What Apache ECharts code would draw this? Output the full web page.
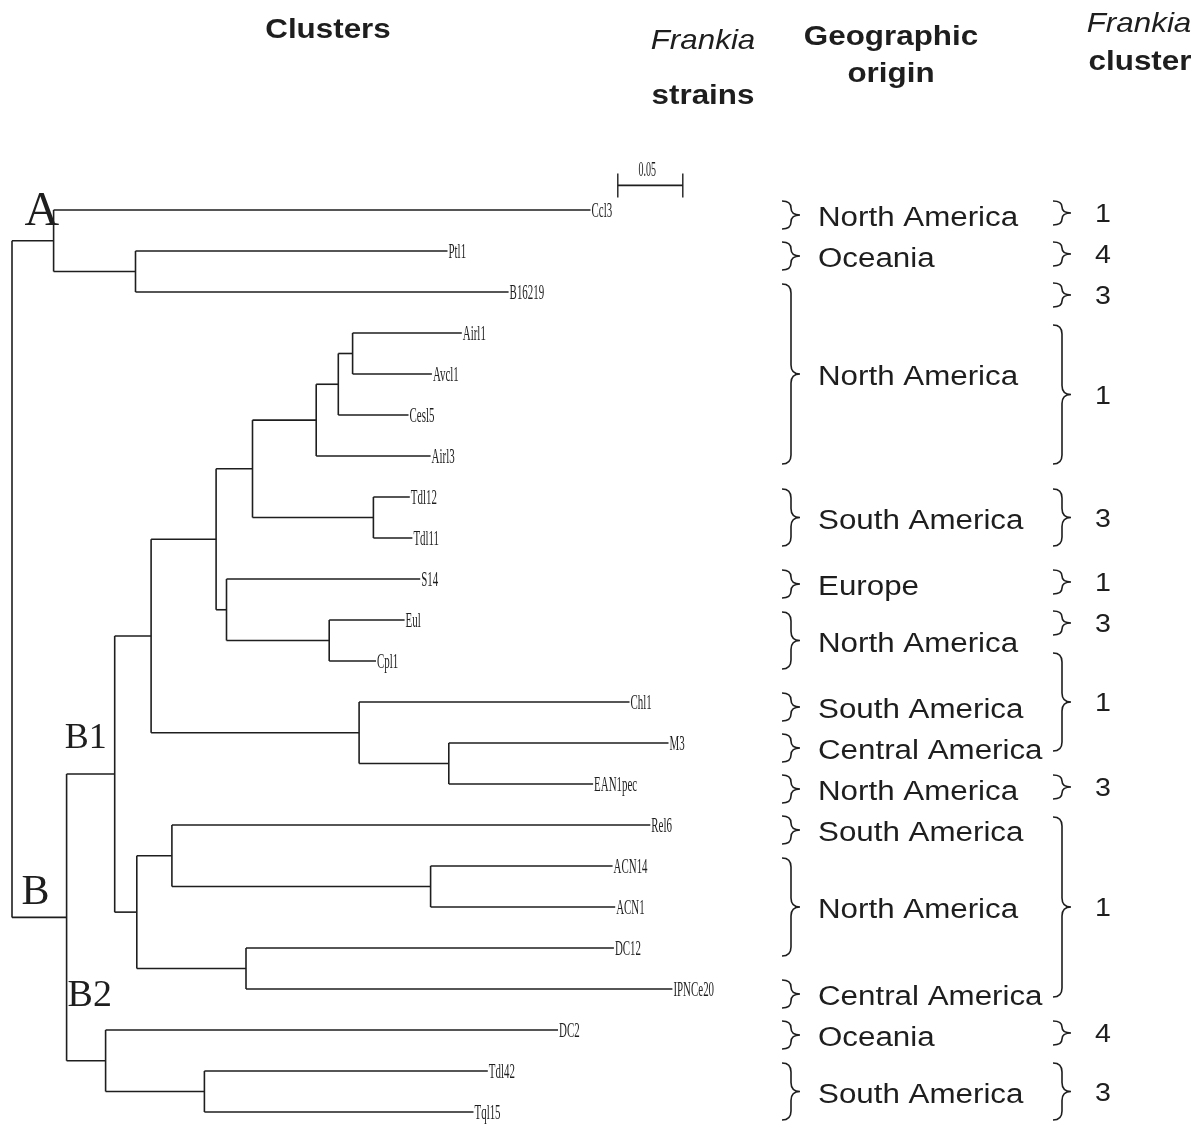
<!DOCTYPE html>
<html><head><meta charset="utf-8">
<script src="https://cdn.jsdelivr.net/npm/echarts@6/dist/echarts.min.js"></script>
<style>html,body{margin:0;padding:0;background:#fff}#chart{width:1200px;height:1125px}</style>
</head><body><div id="chart"></div>
<script>
// ---- Data: leaves (strains) in display order and their distance from root
const leafNames = ['Ccl3','Ptl1','B16219','Airl1','Avcl1','Cesl5','Airl3','Tdl12','Tdl11','S14','Eul','Cpl1','Chl1','M3','EAN1pec','Rel6','ACN14','ACN1','DC12','IPNCe20','DC2','Tdl42','Tql15'];
const leafDepth = [0.445,0.335,0.382,0.346,0.323,0.305,0.322,0.306,0.308,0.314,0.302,0.280,0.475,0.505,0.447,0.491,0.462,0.464,0.463,0.508,0.420,0.366,0.355];
// ---- Internal nodes: distance from root and children
const nodeNames = ['root','A','PB','B','B1','B1a','n216','n252','n317','n339','n353','nTd','n227','nEC','n359','n449','B1b','n172','nACN','n246','B2','nTT'];
const nodeDepth = [0,0.032,0.095,0.042,0.079,0.107,0.157,0.185,0.234,0.251,0.262,0.278,0.165,0.244,0.267,0.336,0.096,0.123,0.322,0.180,0.072,0.148];
const nodeChildren = [
  ['A','B'], ['Ccl3','PB'], ['Ptl1','B16219'], ['B1','B2'], ['B1a','B1b'],
  ['n216','n359'], ['n252','n227'], ['n317','nTd'], ['n339','Airl3'], ['n353','Cesl5'],
  ['Airl1','Avcl1'], ['Tdl12','Tdl11'], ['S14','nEC'], ['Eul','Cpl1'], ['Chl1','n449'],
  ['M3','EAN1pec'], ['n172','n246'], ['Rel6','nACN'], ['ACN14','ACN1'], ['DC12','IPNCe20'],
  ['DC2','nTT'], ['Tdl42','Tql15']
];
// ---- Geographic origin groups (leaf index ranges)
const geoNames = ['North America','Oceania','North America','South America','Europe','North America','South America','Central America','North America','South America','North America','Central America','Oceania','South America'];
const geoFirst = [0,1,2,7,9,10,12,13,14,15,16,19,20,21];
const geoLast  = [0,1,6,8,9,11,12,13,14,15,18,19,20,22];
// ---- Frankia cluster groups (leaf index ranges)
const clusterNames = ['1','4','3','1','3','1','3','1','3','1','4','3'];
const clusterFirst = [0,1,2,3,7,9,10,11,14,15,20,21];
const clusterLast  = [0,1,2,6,8,9,10,13,14,19,20,22];
// ---- Clade labels
const cladeNodes = ['A','B','B1','B2'];
const cladeLabels = ['A','B','B1','B2'];
// ---- Scale bar
const scaleBarLength = 0.05;
const scaleBarLabel = '0.05';
// ---- Column headers
const headerTexts = ['Clusters','Frankia','strains','Geographic','origin','Frankia','cluster'];

// ---------- build tree geometry ----------
const leafIndex = {}; leafNames.forEach((n,i)=>leafIndex[n]=i);
const nodeIndex = {}; nodeNames.forEach((n,i)=>nodeIndex[n]=i);
function pos(name){
  if (name in leafIndex) { const i = leafIndex[name]; return [leafDepth[i], i]; }
  const i = nodeIndex[name];
  const ch = nodeChildren[i].map(pos);
  return [nodeDepth[i], (ch[0][1] + ch[ch.length-1][1]) / 2];
}
const segments = [];
nodeNames.forEach((n,i)=>{
  const p = pos(n);
  const ch = nodeChildren[i].map(pos);
  segments.push([p[0], ch[0][1], p[0], ch[ch.length-1][1]]);
  ch.forEach(c=>segments.push([p[0], c[1], c[0], c[1]]));
});

const INK = '#1e1e1e';
const SERIF = '"Liberation Serif", "DejaVu Serif", serif';
const SANS = '"Liberation Sans", Arial, sans-serif';

function bracePath(x0, t, b, w){
  const m = (t+b)/2, xm = x0 + w*0.5;
  const r = Math.min(w*0.5, (b-t)/4);
  return `M${x0},${t} Q${xm},${t} ${xm},${t+r} L${xm},${m-r} Q${xm},${m} ${x0+w},${m} Q${xm},${m} ${xm},${m+r} L${xm},${b-r} Q${xm},${b} ${x0},${b}`;
}

function groupSeries(first, last, names, cfg){
  return {
    type:'custom', coordinateSystem:'cartesian2d', silent:true, animation:false,
    data: first.map((f,i)=>[0, f, last[i]]),
    encode:{x:0, y:[1,2]},
    renderItem:(params, api)=>{
      const i = params.dataIndex;
      const y1 = api.coord([0, api.value(1)])[1];
      const y2 = api.coord([0, api.value(2)])[1];
      let t, b;
      if (api.value(1) === api.value(2)) { t = y1 + cfg.shift - cfg.half; b = y1 + cfg.shift + cfg.half; }
      else { t = y1 - cfg.pad; b = y2 + cfg.pad; }
      const m = (t+b)/2;
      return {type:'group', children:[
        {type:'path', shape:{pathData: bracePath(cfg.x0, t, b, cfg.w)}, style:{fill:'none', stroke:INK, lineWidth:1.6}},
        {type:'text', x: cfg.tx, y: m + cfg.ty, scaleX: cfg.sx,
          style:{text: names[i], fontSize: cfg.fs, fontFamily: SANS, fill: INK, align: cfg.align, verticalAlign:'middle'}}
      ]};
    }
  };
}

const chart = echarts.init(document.getElementById('chart'), null, {renderer:'canvas'});
chart.setOption({
  backgroundColor:'#ffffff',
  animation:false,
  grid:{left:12, top:169, width:1170, height:943, containLabel:false},
  xAxis:{type:'value', min:0, max:0.9, show:false},
  yAxis:{type:'value', min:-1, max:22, inverse:true, show:false},
  graphic:[
    {type:'text', x:328, y:30, scaleX:1.12, style:{text:headerTexts[0], font:'bold 28px '+SANS, fill:INK, align:'center', verticalAlign:'middle'}},
    {type:'text', x:703, y:41, scaleX:1.12, style:{text:headerTexts[1], font:'italic 28px '+SANS, fill:INK, align:'center', verticalAlign:'middle'}},
    {type:'text', x:703, y:96, scaleX:1.12, style:{text:headerTexts[2], font:'bold 28px '+SANS, fill:INK, align:'center', verticalAlign:'middle'}},
    {type:'text', x:891, y:37, scaleX:1.12, style:{text:headerTexts[3], font:'bold 28px '+SANS, fill:INK, align:'center', verticalAlign:'middle'}},
    {type:'text', x:891, y:74, scaleX:1.12, style:{text:headerTexts[4], font:'bold 28px '+SANS, fill:INK, align:'center', verticalAlign:'middle'}},
    {type:'text', x:1139, y:24, scaleX:1.12, style:{text:headerTexts[5], font:'italic 28px '+SANS, fill:INK, align:'center', verticalAlign:'middle'}},
    {type:'text', x:1140, y:62, scaleX:1.12, style:{text:headerTexts[6], font:'bold 28px '+SANS, fill:INK, align:'center', verticalAlign:'middle'}}
  ],
  series:[
    { // tree branches
      type:'custom', coordinateSystem:'cartesian2d', silent:true, animation:false,
      data: segments, encode:{x:[0,2], y:[1,3]},
      renderItem:(params, api)=>{
        const a = api.coord([api.value(0), api.value(1)]);
        const b = api.coord([api.value(2), api.value(3)]);
        return {type:'line', shape:{x1:a[0], y1:a[1], x2:b[0], y2:b[1]}, style:{stroke:INK, lineWidth:1.6}};
      }
    },
    { // leaf labels
      type:'custom', coordinateSystem:'cartesian2d', silent:true, animation:false,
      data: leafNames.map((n,i)=>[leafDepth[i], i]), encode:{x:0, y:1},
      renderItem:(params, api)=>{
        const c = api.coord([api.value(0), api.value(1)]);
        return {type:'text', x:c[0]+1, y:c[1]+1, scaleX:0.52,
          style:{text: leafNames[params.dataIndex], fontSize:21, fontFamily:SERIF, fill:INK, align:'left', verticalAlign:'middle'}};
      }
    },
    { // clade labels
      type:'custom', coordinateSystem:'cartesian2d', silent:true, animation:false,
      data: cladeNodes.map(n=>pos(n)), encode:{x:0, y:1},
      renderItem:(params, api)=>{
        const c = api.coord([api.value(0), api.value(1)]);
        const off = [[-29,-28,48],[-45,-24,42],[-50,-36,36],[-38,-65,38]][params.dataIndex];
        return {type:'text', x:c[0]+off[0], y:c[1]+off[1],
          style:{text: cladeLabels[params.dataIndex], fontSize:off[2], fontFamily:SERIF, fill:INK, align:'left', verticalAlign:'middle'}};
      }
    },
    { // scale bar
      type:'custom', coordinateSystem:'cartesian2d', silent:true, animation:false,
      data: [[0.466, -0.6, scaleBarLength]], encode:{x:0, y:1},
      renderItem:(params, api)=>{
        const a = api.coord([api.value(0), api.value(1)]);
        const b = api.coord([api.value(0)+api.value(2), api.value(1)]);
        return {type:'group', children:[
          {type:'line', shape:{x1:a[0], y1:a[1], x2:b[0], y2:b[1]}, style:{stroke:INK, lineWidth:1.6}},
          {type:'line', shape:{x1:a[0], y1:a[1]-12, x2:a[0], y2:a[1]+12}, style:{stroke:INK, lineWidth:1.4}},
          {type:'line', shape:{x1:b[0], y1:b[1]-12, x2:b[0], y2:b[1]+12}, style:{stroke:INK, lineWidth:1.4}},
          {type:'text', x:(a[0]+b[0])/2 - 3, y:a[1]-15, scaleX:0.5,
            style:{text: scaleBarLabel, fontSize:20, fontFamily:SERIF, fill:INK, align:'center', verticalAlign:'middle'}}
        ]};
      }
    },
    groupSeries(geoFirst, geoLast, geoNames, {x0:782, w:18, half:14, shift:5, pad:8, tx:818, ty:4, sx:1.16, fs:27, align:'left'}),
    groupSeries(clusterFirst, clusterLast, clusterNames, {x0:1053, w:18, half:12, shift:3, pad:8, tx:1103, ty:2, sx:1.1, fs:26, align:'center'})
  ]
});
</script></body></html>
